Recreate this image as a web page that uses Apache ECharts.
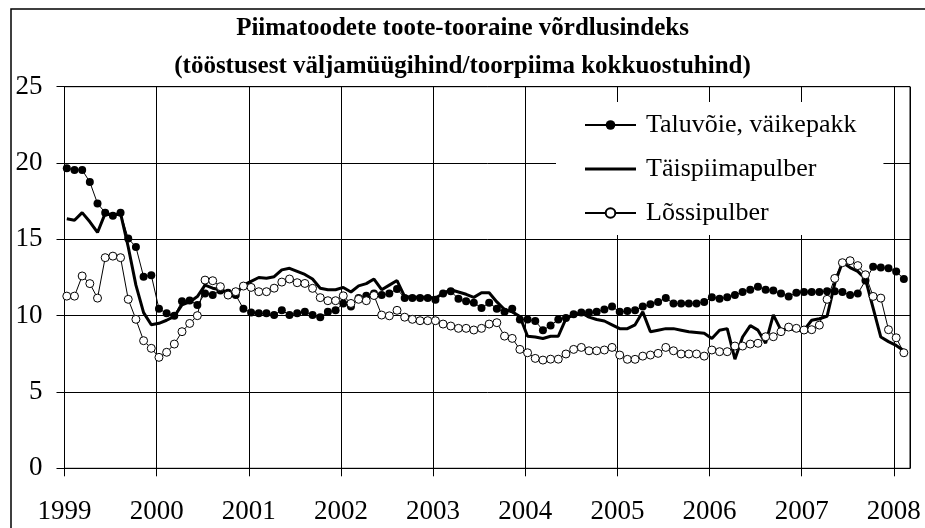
<!DOCTYPE html>
<html>
<head>
<meta charset="utf-8">
<script src="https://cdn.jsdelivr.net/npm/echarts@6/dist/echarts.min.js"></script>
<style>html,body{margin:0;padding:0;background:#fff}#c{width:925px;height:528px}</style>
</head>
<body>
<div id="c"></div>
<script>
// ---- data (monthly, Jan 1999 .. Feb 2008) ----
const titleLines = ['Piimatoodete toote-tooraine võrdlusindeks', '(tööstusest väljamüügihind/toorpiima kokkuostuhind)'];
const yearTicks = ['1999','2000','2001','2002','2003','2004','2005','2006','2007','2008'];
const seriesNames = ['Taluvõie, väikepakk', 'Täispiimapulber', 'Lõssipulber'];
const taluvoie = [
  19.65,19.55,19.55,18.75,17.35,16.75,16.55,16.75,15.05,14.5,12.55,12.65,
  10.45,10.15,10.0,10.95,11.0,10.7,11.45,11.35,11.65,11.5,11.35,10.45,
  10.2,10.15,10.15,10.05,10.35,10.05,10.15,10.25,10.05,9.9,10.25,10.35,
  10.8,10.6,11.15,11.3,11.45,11.35,11.45,11.75,11.15,11.15,11.15,11.15,
  11.05,11.45,11.6,11.1,10.95,10.85,10.5,10.85,10.45,10.25,10.45,9.75,
  9.75,9.65,9.05,9.35,9.75,9.85,10.1,10.2,10.2,10.25,10.4,10.6,
  10.25,10.3,10.35,10.6,10.75,10.9,11.15,10.8,10.8,10.8,10.8,10.9,
  11.2,11.1,11.2,11.35,11.55,11.7,11.9,11.7,11.65,11.45,11.25,11.5,
  11.55,11.55,11.55,11.6,11.6,11.55,11.35,11.45,12.3,13.2,13.15,13.1,
  12.9,12.4
];
const taispiim = [
  16.35,16.25,16.75,16.15,15.45,16.7,16.6,16.7,14.5,12.0,10.2,9.4,
  9.5,9.7,9.95,10.7,10.9,11.25,12.0,11.8,11.7,11.5,11.4,12.0,
  12.25,12.5,12.45,12.55,13.0,13.1,12.9,12.7,12.4,11.8,11.7,11.7,
  11.85,11.55,11.95,12.1,12.4,11.7,12.0,12.3,11.25,11.2,11.2,11.2,
  11.15,11.45,11.7,11.55,11.4,11.2,11.5,11.5,10.9,10.4,10.25,9.95,
  8.65,8.6,8.5,8.65,8.65,9.8,10.05,10.2,9.9,9.75,9.65,9.4,
  9.15,9.15,9.4,10.25,8.95,9.05,9.15,9.15,9.05,8.95,8.9,8.85,
  8.5,9.05,9.15,7.15,8.6,9.35,9.05,8.2,10.05,9.05,9.15,9.05,
  9.05,9.7,9.8,9.95,12.1,13.5,13.15,12.9,12.4,10.5,8.6,8.3,
  8.05,7.7
];
const lossipulber = [
  11.28,11.28,12.6,12.1,11.15,13.8,13.9,13.8,11.07,9.76,8.36,7.86,
  7.27,7.6,8.14,8.95,9.49,10.0,12.33,12.29,11.9,11.35,11.57,11.94,
  11.85,11.57,11.57,11.8,12.2,12.4,12.16,12.11,11.79,11.18,10.98,10.98,
  11.3,10.8,11.07,10.98,11.32,10.04,9.99,10.35,9.9,9.76,9.67,9.67,
  9.67,9.45,9.32,9.17,9.17,9.06,9.17,9.45,9.54,8.66,8.51,7.79,
  7.57,7.2,7.09,7.15,7.15,7.49,7.79,7.92,7.7,7.7,7.75,7.92,
  7.42,7.14,7.14,7.35,7.42,7.53,7.92,7.7,7.49,7.49,7.49,7.35,
  7.75,7.64,7.64,8.01,8.01,8.14,8.19,8.62,8.62,8.95,9.25,9.17,
  9.06,9.08,9.38,11.07,12.44,13.47,13.6,13.28,12.68,11.26,11.15,9.08,
  8.55,7.57
];
// ---- layout ----
const MONTH_OFFSET = 0.3; // points sit slightly right of the year tick
const FONT = 'Liberation Serif';
const toPts = arr => arr.map((v, i) => [i + MONTH_OFFSET, v]);
const titleStyle = {fontFamily: FONT, fontWeight: 'bold', fontSize: 25, color: '#000'};

const chart = echarts.init(document.getElementById('c'), null, {renderer: 'canvas'});
chart.setOption({
  animation: false,
  backgroundColor: '#fff',
  title: [
    {text: titleLines[0], left: 'center', top: 16, padding: 0, textStyle: titleStyle},
    {text: titleLines[1], left: 'center', top: 54, padding: 0, textStyle: titleStyle}
  ],
  graphic: [{
    type: 'rect', z: 100, silent: true,
    shape: {x: 11, y: 9, width: 1000, height: 1000},
    style: {fill: 'none', stroke: '#000', lineWidth: 1.5}
  }],
  legend: {
    orient: 'vertical', left: 556, top: 102,
    padding: [10, 27, 9, 28],
    backgroundColor: '#fff',
    itemWidth: 51, itemHeight: 12, itemGap: 18,
    textStyle: {fontFamily: FONT, fontSize: 26, color: '#000', lineHeight: 26, padding: [0, 0, 0, 5]},
    data: [
      seriesNames[0],
      {name: seriesNames[1], icon: 'path://M0,0 H51 V3 H0 Z'},
      seriesNames[2]
    ]
  },
  grid: {left: 64.5, right: 15, top: 86.7, bottom: 59.7, show: true, borderColor: '#000', borderWidth: 1},
  xAxis: {
    type: 'value', min: 0, max: 110.1, interval: 12,
    axisLine: {show: true, lineStyle: {color: '#000'}},
    axisTick: {show: true, length: 8, lineStyle: {color: '#000'}},
    splitLine: {show: true, lineStyle: {color: '#000'}},
    axisLabel: {
      fontFamily: FONT, fontSize: 27, color: '#000', margin: 30, showMaxLabel: false,
      formatter: v => yearTicks[Math.round(v / 12)] || ''
    }
  },
  yAxis: {
    type: 'value', min: 0, max: 25, interval: 5,
    axisLine: {show: true, lineStyle: {color: '#000'}},
    axisTick: {show: true, length: 8, lineStyle: {color: '#000'}},
    splitLine: {show: true, lineStyle: {color: '#000'}},
    axisLabel: {fontFamily: FONT, fontSize: 27, color: '#000', margin: 22}
  },
  series: [
    {
      name: seriesNames[0], type: 'line', data: toPts(taluvoie),
      symbol: 'circle', symbolSize: 8, showAllSymbol: true,
      lineStyle: {color: '#000', width: 1},
      itemStyle: {color: '#000', borderColor: '#000', borderWidth: 0}
    },
    {
      name: seriesNames[1], type: 'line', data: toPts(taispiim),
      symbol: 'none',
      lineStyle: {color: '#000', width: 3},
      itemStyle: {color: '#000'}
    },
    {
      name: seriesNames[2], type: 'line', data: toPts(lossipulber),
      symbol: 'circle', symbolSize: 8, showAllSymbol: true,
      lineStyle: {color: '#000', width: 1},
      itemStyle: {color: '#fff', borderColor: '#000', borderWidth: 1}
    }
  ]
});
</script>
</body>
</html>
